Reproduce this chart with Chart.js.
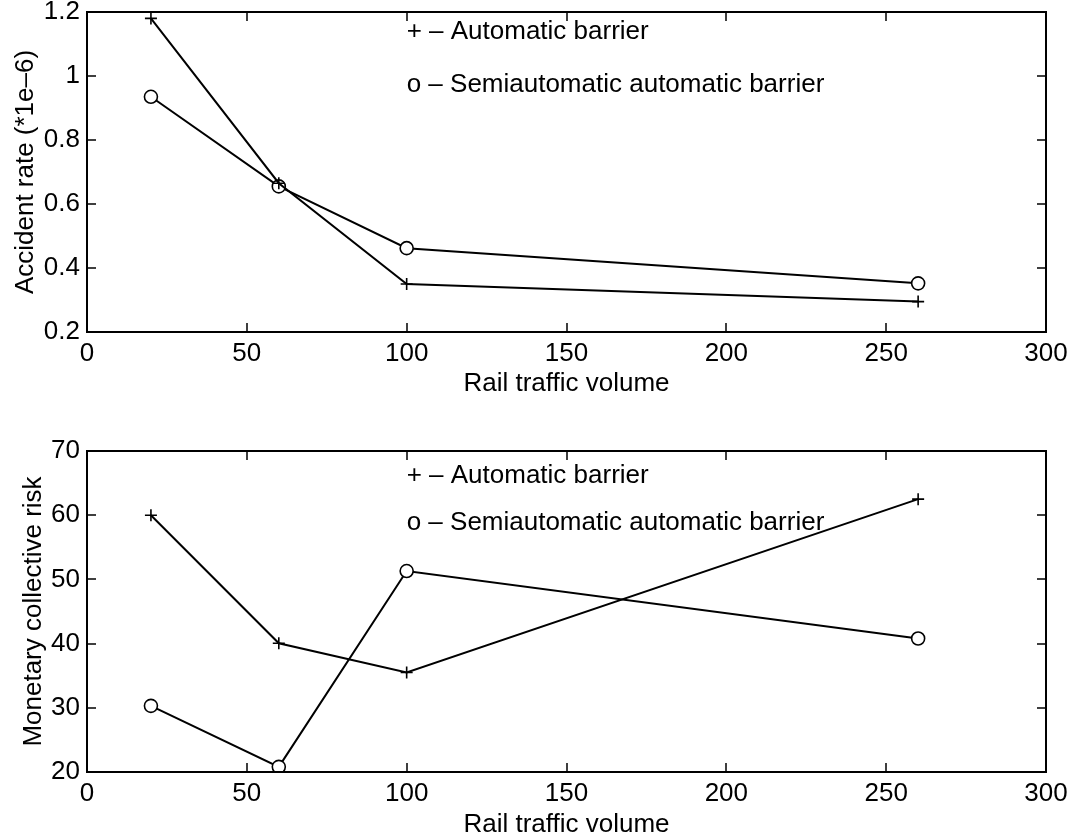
<!DOCTYPE html>
<html>
<head>
<meta charset="utf-8">
<script src="https://cdn.jsdelivr.net/npm/chart.js@4/dist/chart.umd.min.js"></script>
<style>
  html, body { margin: 0; padding: 0; background: #fff; }
  #wrap { position: relative; width: 1069px; height: 840px; }
  .pane { position: absolute; left: 0; width: 1069px; height: 420px; }
  #pane-rate { top: 0; }
  #pane-risk { top: 420px; }
</style>
</head>
<body>
<div id="wrap">
  <div class="pane" id="pane-rate"><canvas id="chartRate" width="1069" height="420"></canvas></div>
  <div class="pane" id="pane-risk"><canvas id="chartRisk" width="1069" height="420"></canvas></div>
</div>
<script>
// rail traffic volume at each crossing class
const trafficVolume = [20, 60, 100, 260];

// accident rate (*1e-6)
const rateAutomatic = [1.18, 0.665, 0.35, 0.295];
const rateSemi = [0.935, 0.655, 0.462, 0.352];

// monetary collective risk
const riskAutomatic = [60, 40.05, 35.5, 62.5];
const riskSemi = [30.3, 20.8, 51.3, 40.8];

const xTicks = [0, 50, 100, 150, 200, 250, 300];
const rateTicks = [0.2, 0.4, 0.6, 0.8, 1, 1.2];
const riskTicks = [20, 30, 40, 50, 60, 70];

// in-plot key, placed in data units
const noteLines = ["+ \u2013 Automatic barrier", "o \u2013 Semiautomatic automatic barrier"];
const noteX = 100;
const rateNoteY = [1.1375, 0.973];
const riskNoteY = [66.1, 58.8];

const FONT = { family: "'Liberation Sans', Arial, Helvetica, sans-serif", size: 26 };
const TICK_LEN = 9;

// matlab style box with inward ticks on all four sides
const boxTicks = {
    id: "boxTicks",
    afterDatasetsDraw(chart) {
        const { ctx, chartArea: a, scales: { x, y } } = chart;
        ctx.save();
        ctx.strokeStyle = "#000";
        ctx.lineWidth = 2;
        ctx.strokeRect(a.left, a.top, a.right - a.left, a.bottom - a.top);
        ctx.lineWidth = 1.5;
        ctx.beginPath();
        x.ticks.forEach((t) => {
            const px = Math.round(x.getPixelForValue(t.value));
            ctx.moveTo(px, a.bottom); ctx.lineTo(px, a.bottom - TICK_LEN);
            ctx.moveTo(px, a.top); ctx.lineTo(px, a.top + TICK_LEN);
        });
        y.ticks.forEach((t) => {
            const py = Math.round(y.getPixelForValue(t.value));
            ctx.moveTo(a.left, py); ctx.lineTo(a.left + TICK_LEN, py);
            ctx.moveTo(a.right, py); ctx.lineTo(a.right - TICK_LEN, py);
        });
        ctx.stroke();
        ctx.restore();
    },
};

// text key drawn under the lines
const noteText = {
    id: "noteText",
    beforeDatasetsDraw(chart, args, opts) {
        const { ctx, scales: { x, y } } = chart;
        ctx.save();
        ctx.fillStyle = "#000";
        ctx.font = `${FONT.size}px ${FONT.family}`;
        ctx.textAlign = "left";
        ctx.textBaseline = "middle";
        opts.lines.forEach((txt, i) => {
            ctx.fillText(txt, x.getPixelForValue(opts.x), y.getPixelForValue(opts.y[i]));
        });
        ctx.restore();
    },
};

function makeChart(canvasId, cfg) {
    const series = (values, style, radius) => ({
        data: trafficVolume.map((v, i) => ({ x: v, y: values[i] })),
        borderColor: "#000",
        borderWidth: 2,
        tension: 0,
        pointStyle: style,
        pointRadius: radius,
        pointBorderWidth: 1.6,
        pointBorderColor: "#000",
        pointBackgroundColor: "#fff",
    });

    return new Chart(document.getElementById(canvasId).getContext("2d"), {
        type: "line",
        data: {
            datasets: [series(cfg.automatic, "cross", 6), series(cfg.semi, "circle", 6.5)],
        },
        options: {
            responsive: false,
            animation: false,
            devicePixelRatio: 1,
            layout: { padding: { top: cfg.padTop, right: 23, left: 0, bottom: 0 } },
            plugins: {
                legend: { display: false },
                tooltip: { enabled: false },
                noteText: { lines: noteLines, x: noteX, y: cfg.noteY },
            },
            scales: {
                x: {
                    type: "linear",
                    min: 0,
                    max: 300,
                    grid: { display: false, drawTicks: false },
                    border: { display: false },
                    afterBuildTicks: (s) => { s.ticks = xTicks.map((v) => ({ value: v })); },
                    afterFit: (s) => { s.height = cfg.xHeight; s.paddingLeft = 0; s.paddingRight = 0; },
                    ticks: { color: "#000", font: FONT, padding: 6, maxRotation: 0, callback: (v) => String(v) },
                    title: { display: true, text: "Rail traffic volume", color: "#000", font: FONT, padding: { top: 0, bottom: cfg.xTitlePad } },
                },
                y: {
                    type: "linear",
                    min: cfg.yTicks[0],
                    max: cfg.yTicks[cfg.yTicks.length - 1],
                    grid: { display: false, drawTicks: false },
                    border: { display: false },
                    afterBuildTicks: (s) => { s.ticks = cfg.yTicks.map((v) => ({ value: v })); },
                    afterFit: (s) => { s.width = 87; s.paddingTop = 0; s.paddingBottom = 0; },
                    ticks: { color: "#000", font: FONT, padding: 7, callback: (v) => String(v) },
                    title: { display: true, text: cfg.yTitle, color: "#000", font: FONT, padding: { top: cfg.yTitlePad, bottom: 0 } },
                },
            },
        },
        plugins: [noteText, boxTicks],
    });
}

makeChart("chartRate", {
    automatic: rateAutomatic,
    semi: rateSemi,
    yTicks: rateTicks,
    yTitle: "Accident rate (*1e\u20136)",
    noteY: rateNoteY,
    padTop: 12,
    xHeight: 88,
    xTitlePad: 21,
    yTitlePad: 10,
});

makeChart("chartRisk", {
    automatic: riskAutomatic,
    semi: riskSemi,
    yTicks: riskTicks,
    yTitle: "Monetary collective risk",
    noteY: riskNoteY,
    padTop: 31,
    xHeight: 68,
    xTitlePad: 0,
    yTitlePad: 18,
});
</script>
</body>
</html>
